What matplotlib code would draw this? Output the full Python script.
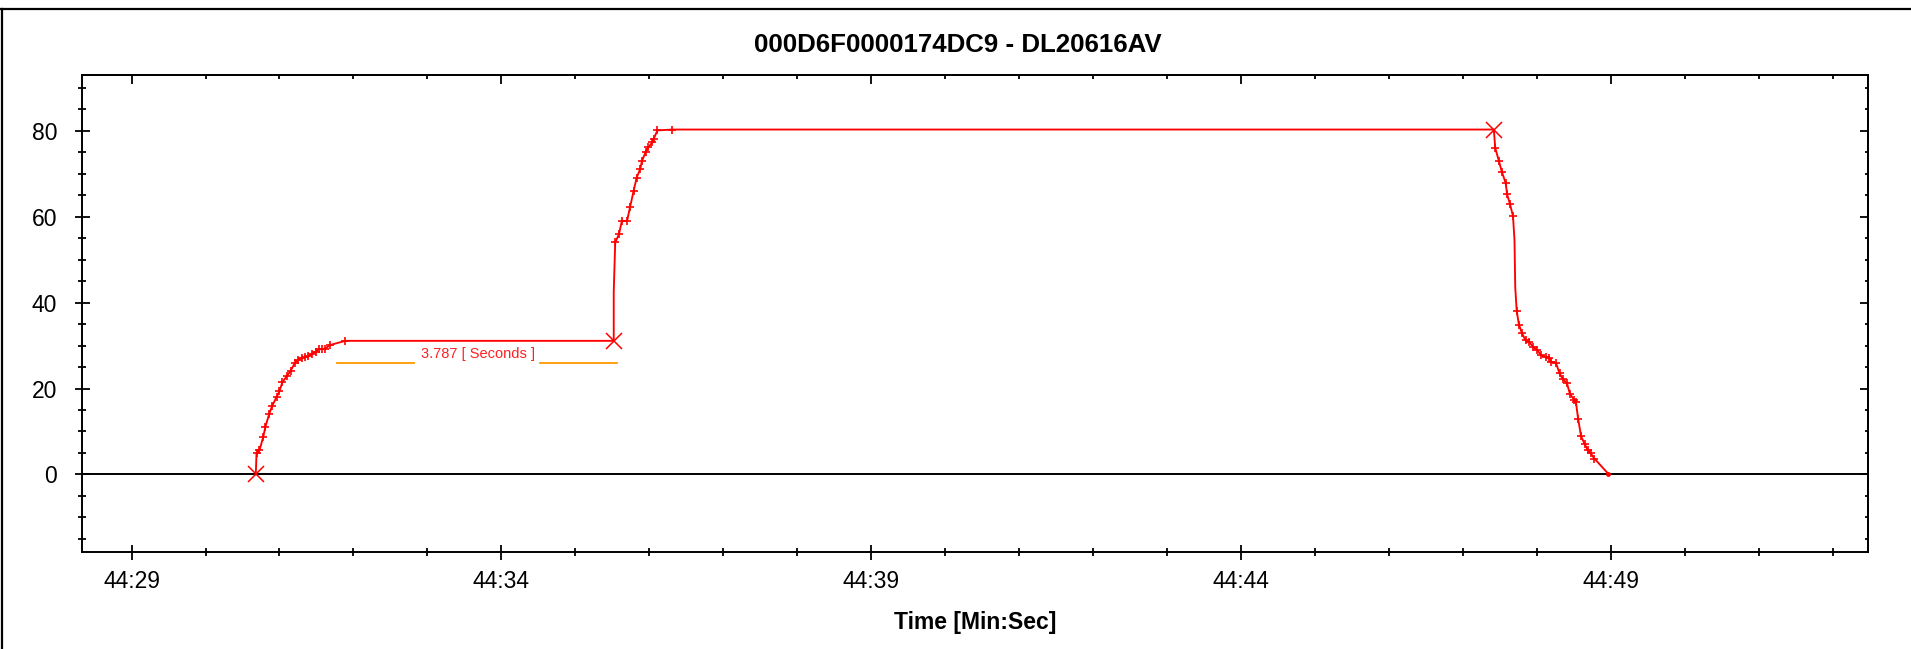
import matplotlib
matplotlib.use('Agg')
import matplotlib.pyplot as plt
from matplotlib.lines import Line2D
from matplotlib.ticker import FixedLocator, MultipleLocator

plt.rcParams['font.family'] = ['Liberation Sans', 'DejaVu Sans']

TITLE = '000D6F0000174DC9 - DL20616AV'
X_LABEL = 'Time [Min:Sec]'

# Time is in seconds after 44:00
rise_t = [30.68, 30.69, 30.73, 30.78, 30.81, 30.86, 30.90, 30.96, 31.00, 31.04,
          31.10, 31.15, 31.21, 31.25, 31.30, 31.35, 31.39, 31.44, 31.49, 31.53,
          31.58, 31.62, 31.68, 31.89]
rise_v = [0.0, 5.0, 5.6, 8.7, 11.1, 14.0, 15.9, 18.0, 19.4, 21.5,
          22.9, 24.1, 26.0, 26.6, 27.1, 27.3, 27.5, 28.1, 28.6, 29.1,
          29.2, 29.3, 30.1, 31.1]

jump_t = [35.52, 35.52, 35.54, 35.59, 35.63, 35.70, 35.74, 35.79, 35.83, 35.88,
          35.90, 35.95, 35.99, 36.04, 36.06, 36.11, 36.31]
jump_v = [31.1, 42.5, 54.0, 55.9, 59.0, 59.0, 62.2, 66.1, 69.1, 71.2,
          72.9, 75.0, 76.2, 77.3, 78.1, 80.1, 80.3]

fall_t = [47.42, 47.44, 47.49, 47.53, 47.58, 47.60, 47.64, 47.68, 47.70, 47.71,
          47.73, 47.76, 47.80, 47.85, 47.90, 47.95, 48.01, 48.06, 48.13, 48.17,
          48.20, 48.26, 48.31, 48.35, 48.41, 48.45, 48.51, 48.53, 48.56, 48.60,
          48.65, 48.69, 48.73, 48.78, 48.97]
fall_v = [80.3, 76.0, 72.9, 70.4, 67.9, 65.2, 62.9, 60.1, 54.5, 43.6,
          38.0, 34.9, 32.9, 31.2, 30.8, 29.7, 28.9, 27.7, 27.3, 27.2,
          26.2, 26.0, 23.5, 22.3, 21.2, 18.7, 17.3, 16.9, 13.0, 8.9,
          7.0, 5.7, 4.9, 3.7, 0.1]

# samples drawn without a marker (gaps in the logged data)
unmarked_t = [35.52, 47.70, 47.71]

# start / hold / release events
event_t = [30.68, 35.52, 47.42]
event_v = [0.0, 31.1, 80.3]

# measured hold duration bracket
hold_start, hold_end = 31.78, 35.565
hold_seconds = 3.787
hold_y = 26.0

x_major = [29, 34, 39, 44, 49]
x_labels = ['44:29', '44:34', '44:39', '44:44', '44:49']
y_major = [0, 20, 40, 60, 80]


def main():
    fig = plt.figure(figsize=(19.11, 6.49), dpi=100)
    ax = fig.add_axes([82 / 1911, 1 - 551.7 / 649, (1868 - 82) / 1911, (551.7 - 75) / 649])

    t = rise_t + jump_t + fall_t
    v = rise_v + jump_v + fall_v

    ax.axhline(0, color='black', lw=1.4, zorder=1)
    ax.plot(t, v, color='#ff0000', lw=1.35, zorder=3)

    skip = set(unmarked_t) | set(event_t)
    mark_idx = [i for i, ti in enumerate(t) if ti not in skip and i != len(t) - 1]
    ax.plot([t[i] for i in mark_idx], [v[i] for i in mark_idx], ls='none',
            marker='+', ms=5.5, mew=1.2, color='#ff0000', zorder=4)
    ax.plot(event_t, event_v, ls='none', marker='x', ms=11, mew=1.1,
            color='#ff0000', zorder=5)
    ax.plot(t[-1], v[-1], ls='none', marker='o', ms=2.5, color='#ff0000', zorder=5)

    # duration bracket with its label
    mid = (hold_start + hold_end) / 2
    gap = 0.85
    ax.plot([hold_start, mid - gap], [hold_y, hold_y], color='#ff9900', lw=1.3)
    ax.plot([mid + gap, hold_end], [hold_y, hold_y], color='#ff9900', lw=1.3)
    ax.text(mid + 0.01, hold_y + 1.0, f'{hold_seconds:.3f} [ Seconds ]',
            color='#ff2020', fontsize=10.5, ha='center', va='baseline')

    ax.set_xlim(28.33, 52.48)
    ax.set_ylim(-18, 93)

    ax.xaxis.set_major_locator(FixedLocator(x_major))
    ax.set_xticklabels(x_labels)
    ax.xaxis.set_minor_locator(MultipleLocator(1))
    ax.yaxis.set_major_locator(FixedLocator(y_major))
    ax.yaxis.set_minor_locator(MultipleLocator(5))

    ax.tick_params(which='major', direction='inout', length=10.8, width=1.3,
                   labelsize=16.5, top=False, right=False)
    ax.tick_params(which='minor', direction='inout', length=5.5, width=1.3,
                   top=False, right=False)
    ax.tick_params(axis='x', which='major', pad=7.5)
    ax.tick_params(axis='y', which='major', pad=12.5)

    for sp in ax.spines.values():
        sp.set_linewidth(1.4)

    # top and right ticks point inward only
    top = ax.secondary_xaxis('top')
    top.xaxis.set_major_locator(FixedLocator(x_major))
    top.xaxis.set_minor_locator(MultipleLocator(1))
    top.tick_params(which='major', direction='in', length=6.5, width=1.3, labeltop=False)
    top.tick_params(which='minor', direction='in', length=3, width=1.3)
    top.spines['top'].set_linewidth(1.4)

    right = ax.secondary_yaxis('right')
    right.yaxis.set_major_locator(FixedLocator(y_major))
    right.yaxis.set_minor_locator(MultipleLocator(5))
    right.tick_params(which='major', direction='in', length=5.5, width=1.3, labelright=False)
    right.tick_params(which='minor', direction='in', length=2.4, width=1.3)
    right.spines['right'].set_linewidth(1.4)

    fig.text(957.5 / 1911, 1 - 51.7 / 649, TITLE, fontsize=18.6, fontweight='bold',
             ha='center', va='baseline')
    fig.text(975 / 1911, 1 - 629 / 649, X_LABEL, fontsize=16.5, fontweight='bold',
             ha='center', va='baseline')

    # outer frame of the exported chart
    fig.add_artist(Line2D([0, 1], [1 - 9 / 649] * 2, color='black', lw=1.6))
    fig.add_artist(Line2D([1.5 / 1911] * 2, [0, 1 - 9 / 649], color='black', lw=1.6))

    fig.savefig('out.png', dpi=100)


if __name__ == '__main__':
    main()
